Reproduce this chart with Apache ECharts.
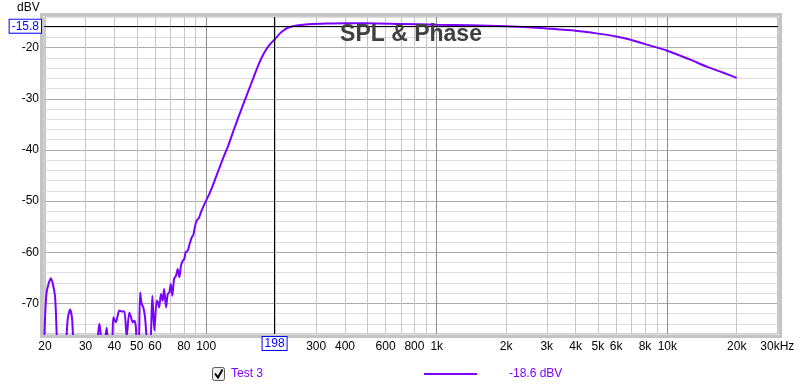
<!DOCTYPE html>
<html><head><meta charset="utf-8">
<script src="https://cdn.jsdelivr.net/npm/echarts@6/dist/echarts.min.js"></script>
<style>html,body{margin:0;padding:0;background:#fff}#c{width:800px;height:386px}</style>
</head><body><div id="c"></div>
<script>
// ---- data ----
const freqHz = [
  19.8, 20.3, 21.2, 22.1, 22.7, 23.6, 24.5, 25.1, 25.7, 26.2,
  26.8, 28.5, 30.5, 33.6, 34.0, 34.4, 34.8, 35.2, 36.0, 36.5,
  37.0, 37.6, 38.6, 39.2, 39.6, 40.6, 42.0, 43.2, 44.2, 45.2,
  46.4, 47.2, 48.0, 48.8, 49.5, 50.0, 50.9, 51.7, 52.5, 53.4,
  54.3, 55.6, 57.1, 58.4, 59.6, 61.0, 61.7, 62.5, 63.7, 64.8,
  65.7, 67.0, 68.1, 69.2, 70.2, 71.3, 72.6, 74.0, 75.3, 76.5,
  77.8, 79.1, 80.4, 81.5, 83.2, 84.5, 86.6, 88.0, 89.0, 91.0,
  93.0, 95.0, 97.0, 99.9, 103, 107.4, 112, 118.7, 125, 131.2,
  138, 145, 152, 160.3, 168, 177, 183, 189.4, 198, 209,
  217, 224, 235, 247, 277, 320, 400, 500, 700, 1000,
  1400, 2000, 2500, 3000, 4000, 5000, 6000, 7000, 8000, 10000,
  12500, 15000, 17500, 20000
];
const splDbv = [
  -79, -68, -65.1, -68.6, -80, -84, -80, -73, -71.2, -73,
  -80, -85, -83, -79, -76, -74.0, -75.5, -79, -80, -77,
  -74.8, -78, -80, -77, -72.7, -73.7, -71.4, -71.6, -71.6, -76.5,
  -71.8, -72.7, -73.7, -73.4, -74.4, -78, -80, -67.9, -70.1, -70.8,
  -72.7, -78, -79, -68.5, -75.3, -69.5, -69.8, -70.8, -68.2, -69.5,
  -67.2, -70.8, -68.2, -67.9, -66.2, -68.5, -65.2, -64.6, -63.3, -64.9,
  -62.6, -61.7, -61.3, -60.0, -59.7, -58.6, -57.1, -56.6, -55.4, -53.8,
  -53.3, -52.1, -51.2, -49.9, -48.7, -46.7, -44.5, -41.5, -39.0, -36.3,
  -33.6, -31.0, -28.6, -25.9, -23.5, -21.3, -20.2, -19.3, -18.4, -17.2,
  -16.6, -16.2, -15.85, -15.65, -15.4, -15.3, -15.2, -15.2, -15.35, -15.5,
  -15.6, -15.8, -16.0, -16.25, -16.7, -17.25, -17.8, -18.5, -19.3, -20.6,
  -22.3, -23.8, -24.9, -25.9
];
const xGridValues = [
  20, 30, 40, 50, 60, 70, 80, 90,
  100, 200, 300, 400, 500, 600, 700, 800, 900,
  1000, 2000, 3000, 4000, 5000, 6000, 7000, 8000, 9000,
  10000, 20000, 30000
];
const xDecadeValues = [100, 1000, 10000];
const xLabelValues = [20, 30, 40, 50, 60, 80, 100, 300, 400, 600, 800,
  1000, 2000, 3000, 4000, 5000, 6000, 8000, 10000, 20000, 30000];
const yLabelValues = [-70, -60, -50, -40, -30, -20];
const cursorFreq = 198;
const cursorLevel = -15.8;
const seriesName = 'Test 3';
const legendReading = '-18.6 dBV';
const chartTitle = 'SPL & Phase';
const yUnit = 'dBV';

// ---- chart ----
const FONT = "'Liberation Sans', Arial, sans-serif";
const PURPLE = '#7a00ff';
const chart = echarts.init(document.getElementById('c'), null, {renderer: 'canvas'});

function fmtFreq(v) {
  const r = Math.round(v);
  if (r >= 30000) return (r / 1000) + 'kHz';
  if (r >= 1000) return (r / 1000) + 'k';
  return String(r);
}

const xCommon = {type: 'log', logBase: 10, min: 19.8, max: 30200, axisLine: {show: false}};
const yCommon = {type: 'value', min: -76, max: -14, axisLine: {show: false}};

chart.setOption({
  animation: false,
  backgroundColor: '#fff',
  grid: {left: 44, right: 22, top: 17, bottom: 52, show: true, borderColor: '#9a9a9a', borderWidth: 1, backgroundColor: '#fff'},
  xAxis: [
    Object.assign({}, xCommon, {
      position: 'bottom',
      axisTick: {show: false, customValues: xGridValues},
      axisLabel: {customValues: xLabelValues, formatter: fmtFreq, color: '#000', fontSize: 12, fontFamily: FONT, margin: 7, hideOverlap: false},
      splitLine: {show: true, lineStyle: {color: '#c6c6c6', width: 1}}
    }),
    Object.assign({}, xCommon, {
      position: 'top',
      axisTick: {show: false, customValues: xDecadeValues},
      axisLabel: {show: false},
      splitLine: {show: true, lineStyle: {color: '#8e8e8e', width: 1}}
    })
  ],
  yAxis: [
    Object.assign({}, yCommon, {
      position: 'right', interval: 2,
      axisTick: {show: false}, axisLabel: {show: false},
      splitLine: {show: true, lineStyle: {color: '#dedede', width: 1}}
    }),
    Object.assign({}, yCommon, {
      position: 'left',
      axisTick: {show: false, customValues: yLabelValues},
      axisLabel: {customValues: yLabelValues, color: '#000', fontSize: 12, fontFamily: FONT, margin: 5},
      splitLine: {show: true, lineStyle: {color: '#ababab', width: 1}}
    })
  ],
  series: [{
    name: seriesName,
    type: 'line',
    xAxisIndex: 0,
    yAxisIndex: 1,
    data: freqHz.map((f, i) => [f, splDbv[i]]),
    showSymbol: false,
    symbol: 'none',
    clip: true,
    smooth: 0.25,
    lineStyle: {color: PURPLE, width: 2},
    z: 3,
    markLine: {
      silent: true,
      symbol: ['none', 'none'],
      animation: false,
      lineStyle: {color: '#000', width: 1, type: 'solid'},
      label: {
        show: true, position: 'start', distance: 3,
        formatter: p => String(p.value),
        color: '#0000ff', fontSize: 12, fontFamily: FONT,
        backgroundColor: '#fff', borderColor: '#0000ff', borderWidth: 1,
        padding: [1, 2, 0, 2]
      },
      data: [{xAxis: cursorFreq}, {yAxis: cursorLevel}]
    }
  }],
  graphic: [
    {type: 'rect', z: -10, silent: true, shape: {x: 41.5, y: 14.5, width: 739, height: 322},
     style: {fill: 'none', stroke: '#c4c4c4', lineWidth: 3}},
    {type: 'text', z: 10, silent: true, x: 411, y: 35,
     style: {text: chartTitle, fill: '#404040', font: "bold 23px " + FONT, textAlign: 'center', textVerticalAlign: 'middle'}},
    {type: 'text', silent: true, x: 17, y: 8,
     style: {text: yUnit, fill: '#000', font: "12px " + FONT, textAlign: 'left', textVerticalAlign: 'middle'}},
    {type: 'rect', silent: true, shape: {x: 212.5, y: 367.5, width: 12, height: 13, r: 2},
     style: {fill: '#ececec', stroke: '#5a5a5a', lineWidth: 1}},
    {type: 'polyline', silent: true, shape: {points: [[215, 373.5], [218, 377.5], [222.5, 369.5]]},
     style: {stroke: '#000', lineWidth: 2, fill: 'none'}},
    {type: 'text', silent: true, x: 231, y: 374,
     style: {text: seriesName, fill: '#8000ff', font: "12px " + FONT, textAlign: 'left', textVerticalAlign: 'middle'}},
    {type: 'line', silent: true, shape: {x1: 424, y1: 374, x2: 477, y2: 374},
     style: {stroke: PURPLE, lineWidth: 2}},
    {type: 'text', silent: true, x: 509, y: 374,
     style: {text: legendReading, fill: '#8000ff', font: "12px " + FONT, textAlign: 'left', textVerticalAlign: 'middle'}}
  ]
});
</script>
</body></html>
